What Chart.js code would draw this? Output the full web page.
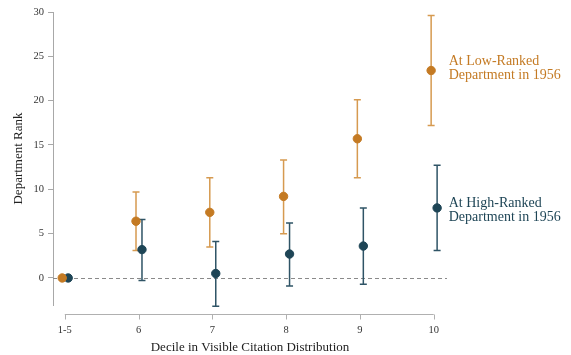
<!DOCTYPE html>
<html>
<head>
<meta charset="utf-8">
<script src="https://cdn.jsdelivr.net/npm/chart.js@4"></script>
<style>
  html, body { margin: 0; padding: 0; background: #fff; }
  #wrap { width: 571px; height: 355px; }
</style>
</head>
<body>
<div id="wrap"><canvas id="chart"></canvas></div>
<script>
// data
const deciles = [5, 6, 7, 8, 9, 10];
const decileLabels = ["1-5", "6", "7", "8", "9", "10"];
const yTicks = [0, 5, 10, 15, 20, 25, 30];

const lowRank = [0, 6.4, 7.4, 9.2, 15.7, 23.4];
const lowLo   = [0, 3.1, 3.5, 5.0, 11.3, 17.2];
const lowHi   = [0, 9.7, 11.3, 13.3, 20.1, 29.6];

const highRank = [0, 3.2, 0.5, 2.7, 3.6, 7.9];
const highLo   = [0, -0.3, -3.2, -0.9, -0.7, 3.1];
const highHi   = [0, 6.6, 4.1, 6.2, 7.9, 12.7];

const lowLabel = ["At Low-Ranked", "Department in 1956"];
const highLabel = ["At High-Ranked", "Department in 1956"];

const orange = "#c47a23";
const orangeBar = "#d69a50";
const navy = "#1e4556";
const navyBar = "#2f5466";
const serif = "'Liberation Serif', 'DejaVu Serif', serif";

function points(vals, shift) {
    return deciles.map((d, i) => ({ x: d + shift, y: vals[i] }));
}

// error bars, zero line, bottom axis and end labels
const extras = {
    id: "extras",
    beforeDatasetsDraw(chart) {
        const ctx = chart.ctx;
        const xs = chart.scales.x, ys = chart.scales.y;
        const area = chart.chartArea;

        // dashed reference line at 0
        ctx.save();
        ctx.strokeStyle = "#8a8a8a";
        ctx.lineWidth = 1;
        ctx.setLineDash([4, 3]);
        ctx.beginPath();
        ctx.moveTo(area.left, Math.round(ys.getPixelForValue(0)) + 0.5);
        ctx.lineTo(area.right, Math.round(ys.getPixelForValue(0)) + 0.5);
        ctx.stroke();
        ctx.restore();

        // error bars
        const sets = [
            { lo: lowLo, hi: lowHi, shift: -0.035, color: orangeBar },
            { lo: highLo, hi: highHi, shift: 0.046, color: navyBar }
        ];
        ctx.save();
        ctx.lineWidth = 1.5;
        sets.forEach(s => {
            ctx.strokeStyle = s.color;
            deciles.forEach((d, i) => {
                if (s.lo[i] === s.hi[i]) return;
                const px = xs.getPixelForValue(d + s.shift);
                const top = ys.getPixelForValue(s.hi[i]);
                const bot = ys.getPixelForValue(s.lo[i]);
                ctx.beginPath();
                ctx.moveTo(px, top); ctx.lineTo(px, bot);
                ctx.moveTo(px - 3.5, top); ctx.lineTo(px + 3.5, top);
                ctx.moveTo(px - 3.5, bot); ctx.lineTo(px + 3.5, bot);
                ctx.stroke();
            });
        });
        ctx.restore();

        // bottom axis, set a little below the plot
        const axisY = area.bottom + 9.5;
        ctx.save();
        ctx.strokeStyle = "#b0b0b0";
        ctx.lineWidth = 1;
        ctx.beginPath();
        ctx.moveTo(xs.getPixelForValue(deciles[0]), axisY);
        ctx.lineTo(xs.getPixelForValue(deciles[deciles.length - 1]), axisY);
        deciles.forEach(d => {
            const px = Math.round(xs.getPixelForValue(d)) + 0.5;
            ctx.moveTo(px, axisY);
            ctx.lineTo(px, axisY + 5);
        });
        ctx.stroke();
        ctx.restore();

        // labels at the end of each series
        ctx.save();
        ctx.font = "14px " + serif;
        ctx.textAlign = "left";
        ctx.textBaseline = "middle";
        const last = deciles.length - 1;
        [[lowLabel, lowRank, orange, -2], [highLabel, highRank, navy, 2]].forEach(([lines, vals, col, nudge]) => {
            const py = ys.getPixelForValue(vals[last]) + nudge;
            const lx = xs.getPixelForValue(deciles[last]) + 15;
            ctx.fillStyle = col;
            ctx.fillText(lines[0], lx, py - 7);
            ctx.fillText(lines[1], lx, py + 7);
        });
        ctx.restore();
    }
};

new Chart(document.getElementById("chart"), {
    type: "scatter",
    data: {
        datasets: [
            {
                label: "Low",
                data: points(lowRank, -0.035),
                backgroundColor: orange,
                borderColor: orange,
                pointRadius: 4.2,
                pointHoverRadius: 4.2
            },
            {
                label: "High",
                data: points(highRank, 0.046),
                backgroundColor: navy,
                borderColor: navy,
                pointRadius: 4.2,
                pointHoverRadius: 4.2
            }
        ]
    },
    options: {
        responsive: true,
        maintainAspectRatio: false,
        animation: false,
        layout: { padding: { left: 11, top: 12, right: 124, bottom: 0 } },
        plugins: {
            legend: { display: false },
            tooltip: { enabled: false }
        },
        scales: {
            x: {
                type: "linear",
                min: 4.84,
                max: 10.18,
                afterBuildTicks: s => { s.ticks = deciles.map(v => ({ value: v })); },
                afterFit: s => { s.height = 50; },
                grid: { display: false },
                border: { display: false },
                ticks: {
                    padding: 11,
                    color: "#333",
                    font: { family: serif, size: 10.5 },
                    maxRotation: 0,
                    callback: v => decileLabels[deciles.indexOf(v)]
                },
                title: {
                    display: true,
                    text: "Decile in Visible Citation Distribution",
                    color: "#222",
                    font: { family: serif, size: 13 },
                    padding: { top: 4, bottom: 0 }
                }
            },
            y: {
                min: -3.05,
                max: 30,
                afterBuildTicks: s => { s.ticks = yTicks.map(v => ({ value: v })); },
                afterFit: s => { s.width = 42; },
                grid: {
                    display: true,
                    drawOnChartArea: false,
                    color: "#a8a8a8",
                    tickLength: 5
                },
                border: { display: true, color: "#a8a8a8", width: 1 },
                ticks: {
                    padding: 4,
                    color: "#333",
                    font: { family: serif, size: 10.5 }
                },
                title: {
                    display: true,
                    text: "Department Rank",
                    color: "#222",
                    font: { family: serif, size: 13 },
                    padding: { top: 0, bottom: 4 }
                }
            }
        }
    },
    plugins: [extras]
});
</script>
</body>
</html>
